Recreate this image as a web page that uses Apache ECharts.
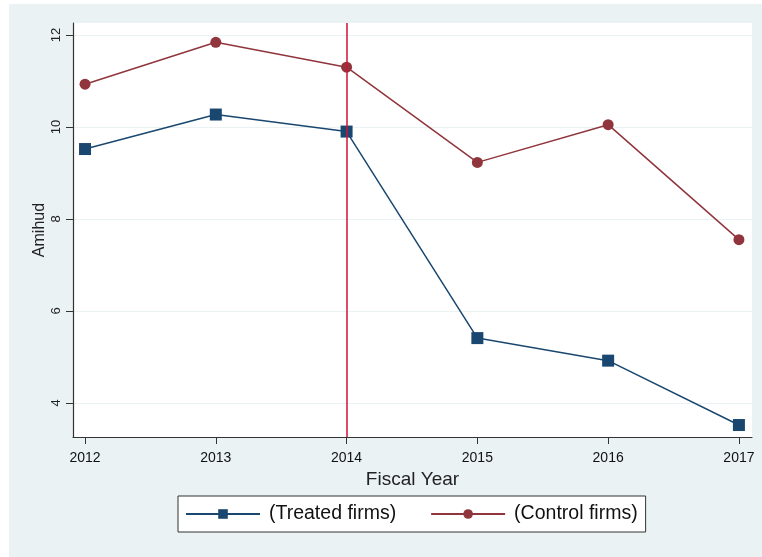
<!DOCTYPE html>
<html><head><meta charset="utf-8">
<script src="https://cdn.jsdelivr.net/npm/echarts@6/dist/echarts.min.js"></script>
<style>html,body{margin:0;padding:0;background:#fff}#c{width:762px;height:557px}</style>
</head><body><div id="c"></div>
<script>
const years = [2012, 2013, 2014, 2015, 2016, 2017];
const treated = [9.52, 10.27, 9.90, 5.41, 4.92, 3.52];
const control = [10.93, 11.84, 11.30, 9.23, 10.05, 7.55];
const yTicks = [4, 6, 8, 10, 12];
const eventYear = 2014;
const seriesNames = ['(Treated firms)', '(Control firms)'];

const font = '"Liberation Sans", Arial, sans-serif';
const chart = echarts.init(document.getElementById('c'), null, {renderer: 'canvas'});
chart.setOption({
  backgroundColor: '#ffffff',
  animation: false,
  graphic: [{
    type: 'rect', z: -10, silent: true,
    shape: {x: 9, y: 4, width: 753, height: 553},
    style: {fill: '#eaf2f3'}
  }],
  grid: {left: 73, top: 23, right: 10, bottom: 120, show: true, backgroundColor: '#ffffff', borderWidth: 0},
  xAxis: {
    type: 'value', min: 2011.908, max: 2017.1,
    name: 'Fiscal Year', nameLocation: 'middle', nameGap: 28,
    nameTextStyle: {fontFamily: font, fontSize: 19, color: '#222'},
    axisLine: {show: true, lineStyle: {color: '#333', width: 1.2}},
    axisTick: {show: true, length: 7, customValues: years, lineStyle: {color: '#333'}},
    axisLabel: {customValues: years, fontFamily: font, fontSize: 14, color: '#111', margin: 14, formatter: v => String(v)},
    splitLine: {show: false}
  },
  yAxis: {
    type: 'value', min: 3.26, max: 12.26,
    name: 'Amihud', nameLocation: 'middle', nameGap: 25, nameRotate: 90, nameMoveOverlap: false,
    nameTextStyle: {fontFamily: font, fontSize: 16, color: '#222'},
    axisLine: {show: true, lineStyle: {color: '#333', width: 1.2}},
    axisTick: {show: true, length: 7, customValues: yTicks, lineStyle: {color: '#333'}},
    axisLabel: {customValues: yTicks, rotate: 90, fontFamily: font, fontSize: 13, color: '#222', margin: 10, formatter: v => String(v)},
    splitLine: {show: true, lineStyle: {color: '#eaf2f3', width: 1.2}}
  },
  legend: {
    left: 178, top: 496,
    orient: 'horizontal',
    itemWidth: 74, itemHeight: 12, itemGap: 34,
    padding: [8, 8, 8, 7],
    borderColor: '#333', borderWidth: 1, backgroundColor: '#ffffff', borderRadius: 0,
    textStyle: {fontFamily: font, fontSize: 19.5, color: '#111', padding: [0, 0, 0, 4]},
    data: seriesNames
  },
  series: [
    {
      name: seriesNames[0], type: 'line',
      data: years.map((y, i) => [y, treated[i]]),
      symbol: 'rect', symbolSize: 12,
      lineStyle: {color: '#1a476f', width: 1.5},
      itemStyle: {color: '#1a476f'},
      z: 3
    },
    {
      name: seriesNames[1], type: 'line',
      data: years.map((y, i) => [y, control[i]]),
      symbol: 'circle', symbolSize: 11,
      lineStyle: {color: '#90353b', width: 1.5},
      itemStyle: {color: '#90353b'},
      markLine: {
        silent: true, symbol: 'none', label: {show: false},
        lineStyle: {color: '#d0103a', width: 1.5, type: 'solid'},
        data: [{xAxis: eventYear}]
      },
      z: 3
    }
  ]
});
</script></body></html>
